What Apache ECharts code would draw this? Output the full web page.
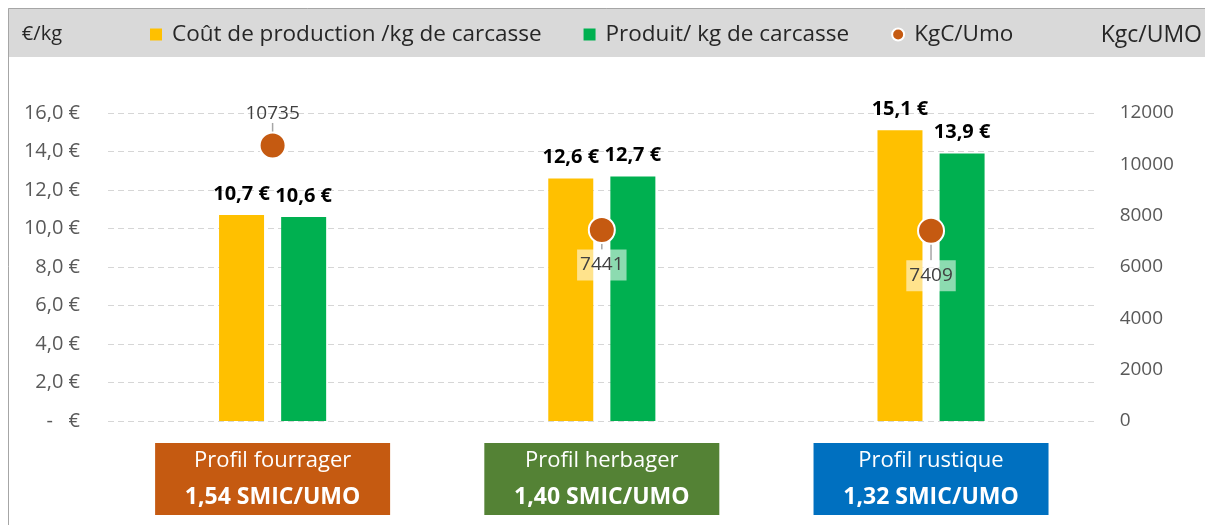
<!DOCTYPE html>
<html>
<head>
<meta charset="utf-8">
<script src="https://cdn.jsdelivr.net/npm/echarts@6/dist/echarts.min.js"></script>
<style>
  html, body { margin: 0; padding: 0; background: #fff; }
  #chart { width: 1205px; height: 525px; }
</style>
</head>
<body>
<div id="chart"></div>
<script>
// data
const profiles = ['Profil fourrager', 'Profil herbager', 'Profil rustique'];
const smicPerUmo = ['1,54 SMIC/UMO', '1,40 SMIC/UMO', '1,32 SMIC/UMO'];
const costPerKg = [10.7, 12.6, 15.1];
const productPerKg = [10.6, 12.7, 13.9];
const kgcPerUmo = [10735, 7441, 7409];
const seriesNames = ['Coût de production /kg de carcasse', 'Produit/ kg de carcasse', 'KgC/Umo'];

const profileColors = ['#C55A11', '#548235', '#0070C0'];
const FONT = '"Open Sans", sans-serif';

const euro = (v) => v.toFixed(1).replace('.', ',') + ' €';

// one coloured box per category, built with rich text
const rich = {};
profiles.forEach((p, i) => {
  const base = {
    width: 235,
    height: 36,
    lineHeight: 36,
    align: 'center',
    color: '#fff',
    fontSize: 22,
    fontFamily: FONT,
    backgroundColor: profileColors[i],
  };
  rich['t' + i] = Object.assign({}, base);
  rich['b' + i] = Object.assign({}, base, { fontWeight: 'bold', fontSize: 23 });
});

const chart = echarts.init(document.getElementById('chart'));

chart.setOption({
  backgroundColor: '#fff',
  animation: false,
  textStyle: { fontFamily: FONT },
  graphic: [
    {
      type: 'rect',
      shape: { x: 8, y: 8, width: 1197, height: 49 },
      style: { fill: '#D9D9D9' },
      z: -10,
    },
    {
      type: 'polyline',
      shape: { points: [[8.5, 525], [8.5, 8.5], [1205, 8.5]] },
      style: { stroke: '#A6A6A6', lineWidth: 1, fill: null },
      z: -5,
    },
  ],
  legend: {
    left: 150,
    top: 23,
    padding: 0,
    itemWidth: 12,
    itemHeight: 12,
    itemGap: 42,
    textStyle: {
      fontSize: 22.5,
      color: '#262626',
      fontFamily: FONT,
      padding: [0, 0, 0, 5],
    },
    data: [
      { name: seriesNames[0], icon: 'rect' },
      { name: seriesNames[1], icon: 'rect' },
      { name: seriesNames[2], icon: 'circle' },
    ],
  },
  grid: { left: 108, right: 107, top: 113, bottom: 104 },
  xAxis: {
    type: 'category',
    data: profiles,
    axisLine: { show: false },
    axisTick: { show: false },
    axisLabel: {
      margin: 22,
      formatter: (v, i) => '{t' + i + '|' + v + '}\n{b' + i + '|' + smicPerUmo[i] + '}',
      rich: rich,
    },
  },
  yAxis: [
    {
      type: 'value',
      min: 0,
      max: 16,
      interval: 2,
      name: '€/kg',
      nameLocation: 'end',
      nameGap: 69,
      nameTextStyle: {
        fontSize: 20,
        color: '#262626',
        align: 'right',
        padding: [0, 46, 0, 0],
        fontFamily: FONT,
      },
      axisLine: { show: false },
      axisTick: { show: false },
      axisLabel: {
        margin: 28,
        fontSize: 20,
        color: '#595959',
        formatter: (v) => (v === 0 ? '-   €' : euro(v)),
      },
      splitLine: {
        lineStyle: { color: '#D6D6D6', type: [6, 4], width: 1 },
      },
    },
    {
      type: 'value',
      min: 0,
      max: 12000,
      interval: 2000,
      name: 'Kgc/UMO',
      nameLocation: 'end',
      nameGap: 66,
      nameTextStyle: {
        fontSize: 23,
        color: '#262626',
        align: 'left',
        padding: [0, 0, 0, 5],
        fontFamily: FONT,
      },
      axisLine: { show: false },
      axisTick: { show: false },
      axisLabel: {
        margin: 24,
        fontSize: 19,
        color: '#595959',
        formatter: (v) => String(v),
      },
      splitLine: { show: false },
    },
  ],
  series: [
    {
      name: seriesNames[0],
      type: 'bar',
      data: costPerKg,
      barWidth: 45,
      barGap: '38%',
      itemStyle: { color: '#FFC000' },
      label: {
        show: true,
        position: 'top',
        distance: 11,
        fontSize: 20,
        fontWeight: 'bold',
        color: '#000',
        formatter: (p) => euro(p.value),
      },
    },
    {
      name: seriesNames[1],
      type: 'bar',
      data: productPerKg,
      barWidth: 45,
      itemStyle: { color: '#00B050' },
      label: {
        show: true,
        position: 'top',
        distance: 11,
        fontSize: 20,
        fontWeight: 'bold',
        color: '#000',
        formatter: (p) => euro(p.value),
      },
    },
    {
      name: seriesNames[2],
      type: 'scatter',
      yAxisIndex: 1,
      symbolSize: 26,
      z: 5,
      itemStyle: { color: '#C55A11', opacity: 1, borderColor: '#fff', borderWidth: 2 },
      data: kgcPerUmo.map((v, i) => ({
        value: v,
        label: i === 0
          ? {}
          : { backgroundColor: 'rgba(255,255,255,0.55)' },
      })),
      label: {
        show: true,
        position: 'inside',
        fontSize: 19,
        color: '#404040',
        padding: [6, 3],
      },
      labelLayout: (p) => ({ dy: [-32, 35, 45][p.dataIndex] }),
      labelLine: {
        show: true,
        lineStyle: { color: '#A6A6A6', width: 1.5 },
      },
    },
  ],
});
</script>
</body>
</html>
